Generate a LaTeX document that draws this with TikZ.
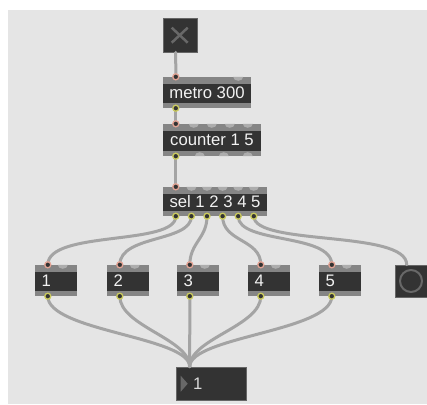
\documentclass[tikz,border=0pt]{standalone}
\usepackage{fontspec}
\setmainfont{Liberation Sans}
\definecolor{patchbg}{HTML}{E5E5E5}
\definecolor{boxdark}{HTML}{333333}
\definecolor{bandgray}{HTML}{858585}
\definecolor{bumpgray}{HTML}{ADADAD}
\definecolor{cablegray}{HTML}{A4A4A4}
\definecolor{inletpink}{HTML}{E3A495}
\definecolor{outletyellow}{HTML}{CACA5E}
\definecolor{glyphgray}{HTML}{686868}
\definecolor{maxtext}{HTML}{F2F2F2}

\tikzset{
  maxobj/.style={rectangle, fill=bandgray, inner sep=0pt, text=maxtext,
    font=\fontsize{16.7pt}{16.7pt}\selectfont,
    path picture={\fill[boxdark] ([yshift=-7pt]path picture bounding box.north west)
      rectangle ([yshift=5pt]path picture bounding box.south east);}},
  maxnum/.style={maxobj, text width=29pt, align=left, inner xsep=6.5pt, minimum height=31pt},
  darkbox/.style={rectangle, fill=boxdark, draw=black!60, line width=0.6pt, inner sep=0pt},
  cable/.style={draw=cablegray, line width=3pt, line cap=round},
  inletdot/.style={draw=inletpink, fill=boxdark, line width=1.3pt},
  outletdot/.style={draw=outletyellow, fill=boxdark, line width=1.3pt},
  bumptop/.style={fill=bumpgray},
}

\begin{document}
\begin{tikzpicture}[x=1pt, y=-1pt]%
\useasboundingbox (0,0) rectangle (427,404);%
\fill[white] (0,0) rectangle (427,404);%
\fill[patchbg] (8,10) rectangle (427,404);%
% objects
\node[darkbox, minimum width=34pt, minimum height=34pt] (tog) at (180,35) {};%
\node[maxobj, minimum width=88pt, minimum height=31pt] (metro) at (207,92.5) {metro 300};%
\node[maxobj, minimum width=98pt, minimum height=32pt] (counter) at (212,140) {counter 1 5};%
\node[maxobj, minimum width=104pt, minimum height=29pt] (sel) at (215,201.5) {sel 1 2 3 4 5};%
\node[maxnum] (num1) at (56,280.5) {1};%
\node[maxnum] (num2) at (128,280.5) {2};%
\node[maxnum] (num3) at (198,280.5) {3};%
\node[maxnum] (num4) at (269,280.5) {4};%
\node[maxnum] (num5) at (340,280.5) {5};%
\node[darkbox, minimum width=32pt, minimum height=32pt] (btn) at (411,281) {};%
\node[darkbox, text=maxtext!90!black, font=\fontsize{16.7pt}{16.7pt}\selectfont,
  text width=36pt, align=left, inner xsep=17pt, minimum height=33pt] (numout) at (211,383.5) {1};%
% glyphs
\draw[glyphgray, line width=2.5pt] ([shift={(9,10)}]tog.north west) -- ([shift={(25,25)}]tog.north west);%
\draw[glyphgray, line width=2.5pt] ([shift={(25,10)}]tog.north west) -- ([shift={(9,25)}]tog.north west);%
\draw[glyphgray, line width=2pt] (btn) circle (11pt);%
\fill[glyphgray] ([shift={(5,9)}]numout.north west) -- ([shift={(5,25)}]numout.north west) -- ([shift={(12,17)}]numout.north west) -- cycle;%
% inlets and outlets
\coordinate (tog-o) at ([xshift=13pt]tog.south west);%
\coordinate (metro-i) at ([xshift=13pt]metro.north west);%
\coordinate (metro-o) at ([xshift=13pt]metro.south west);%
\coordinate (counter-i) at ([xshift=13pt]counter.north west);%
\coordinate (counter-o) at ([xshift=13pt]counter.south west);%
\coordinate (sel-i) at ([xshift=13pt]sel.north west);%
\foreach \k/\dx in {1/0, 2/15.6, 3/31.2, 4/46.8, 5/62.4, 6/78}
  \coordinate (sel-o\k) at ([xshift=13pt+\dx pt]sel.south west);%
\foreach \k in {1,...,5} {
  \coordinate (num\k-i) at ([xshift=13pt]num\k.north west);
  \coordinate (num\k-o) at ([xshift=13pt]num\k.south west);
}%
\coordinate (btn-i) at ([xshift=12pt]btn.north west);%
\coordinate (numout-i) at ([xshift=14pt]numout.north west);%
% unused inlets and outlets
\fill[bumptop] ([xshift=-13pt]metro.north east) ++(-5,0) arc[start angle=180, end angle=0, x radius=5, y radius=4];%
\foreach \dx in {18,36,54,72}
  \fill[bumptop] ([xshift=\dx pt]counter-i) ++(-5,0) arc[start angle=180, end angle=0, x radius=5, y radius=4];%
\foreach \dx in {24,48,72}
  \fill[bumptop] ([xshift=\dx pt]counter-o) ++(-5,0) arc[start angle=180, end angle=360, x radius=5, y radius=4];%
\foreach \dx in {15.6,31.2,46.8,62.4,78}
  \fill[bumptop] ([xshift=\dx pt]sel-i) ++(-5,0) arc[start angle=180, end angle=0, x radius=5, y radius=4];%
\foreach \k in {1,...,5}
  \fill[bumptop] ([xshift=15pt]num\k-i) ++(-5,0) arc[start angle=180, end angle=0, x radius=5, y radius=4];%
% patch cords
\draw[cable] (tog-o) -- (metro-i);%
\draw[cable] (metro-o) -- (counter-i);%
\draw[cable] (counter-o) -- (sel-i);%
\draw[cable] (sel-o1) .. controls +(0,30) and +(0,-35) .. (num1-i);%
\draw[cable] (sel-o2) .. controls +(0,26) and +(0,-30) .. (num2-i);%
\draw[cable] (sel-o3) .. controls +(0,22) and +(0,-22) .. (num3-i);%
\draw[cable] (sel-o4) .. controls +(0,26) and +(0,-26) .. (num4-i);%
\draw[cable] (sel-o5) .. controls +(0,28) and +(0,-32) .. (num5-i);%
\draw[cable] (sel-o6) .. controls +(0,30) and +(0,-35) .. (btn-i);%
\draw[cable] (num1-o) .. controls +(0,35) and +(0,-30) .. (numout-i);%
\draw[cable] (num2-o) .. controls +(0,30) and +(0,-28) .. (numout-i);%
\draw[cable] (num3-o) -- (numout-i);%
\draw[cable] (num4-o) .. controls +(0,30) and +(0,-28) .. (numout-i);%
\draw[cable] (num5-o) .. controls +(0,35) and +(0,-30) .. (numout-i);%
% connected inlets and outlets
\foreach \p in {metro-i, counter-i, sel-i, num1-i, num2-i, num3-i, num4-i, num5-i}
  \filldraw[inletdot] (\p) circle (3pt);%
\foreach \p in {metro-o, counter-o, sel-o1, sel-o2, sel-o3, sel-o4, sel-o5, sel-o6, num1-o, num2-o, num3-o, num4-o, num5-o}
  \filldraw[outletdot] (\p) circle (3pt);%
\end{tikzpicture}
\end{document}
